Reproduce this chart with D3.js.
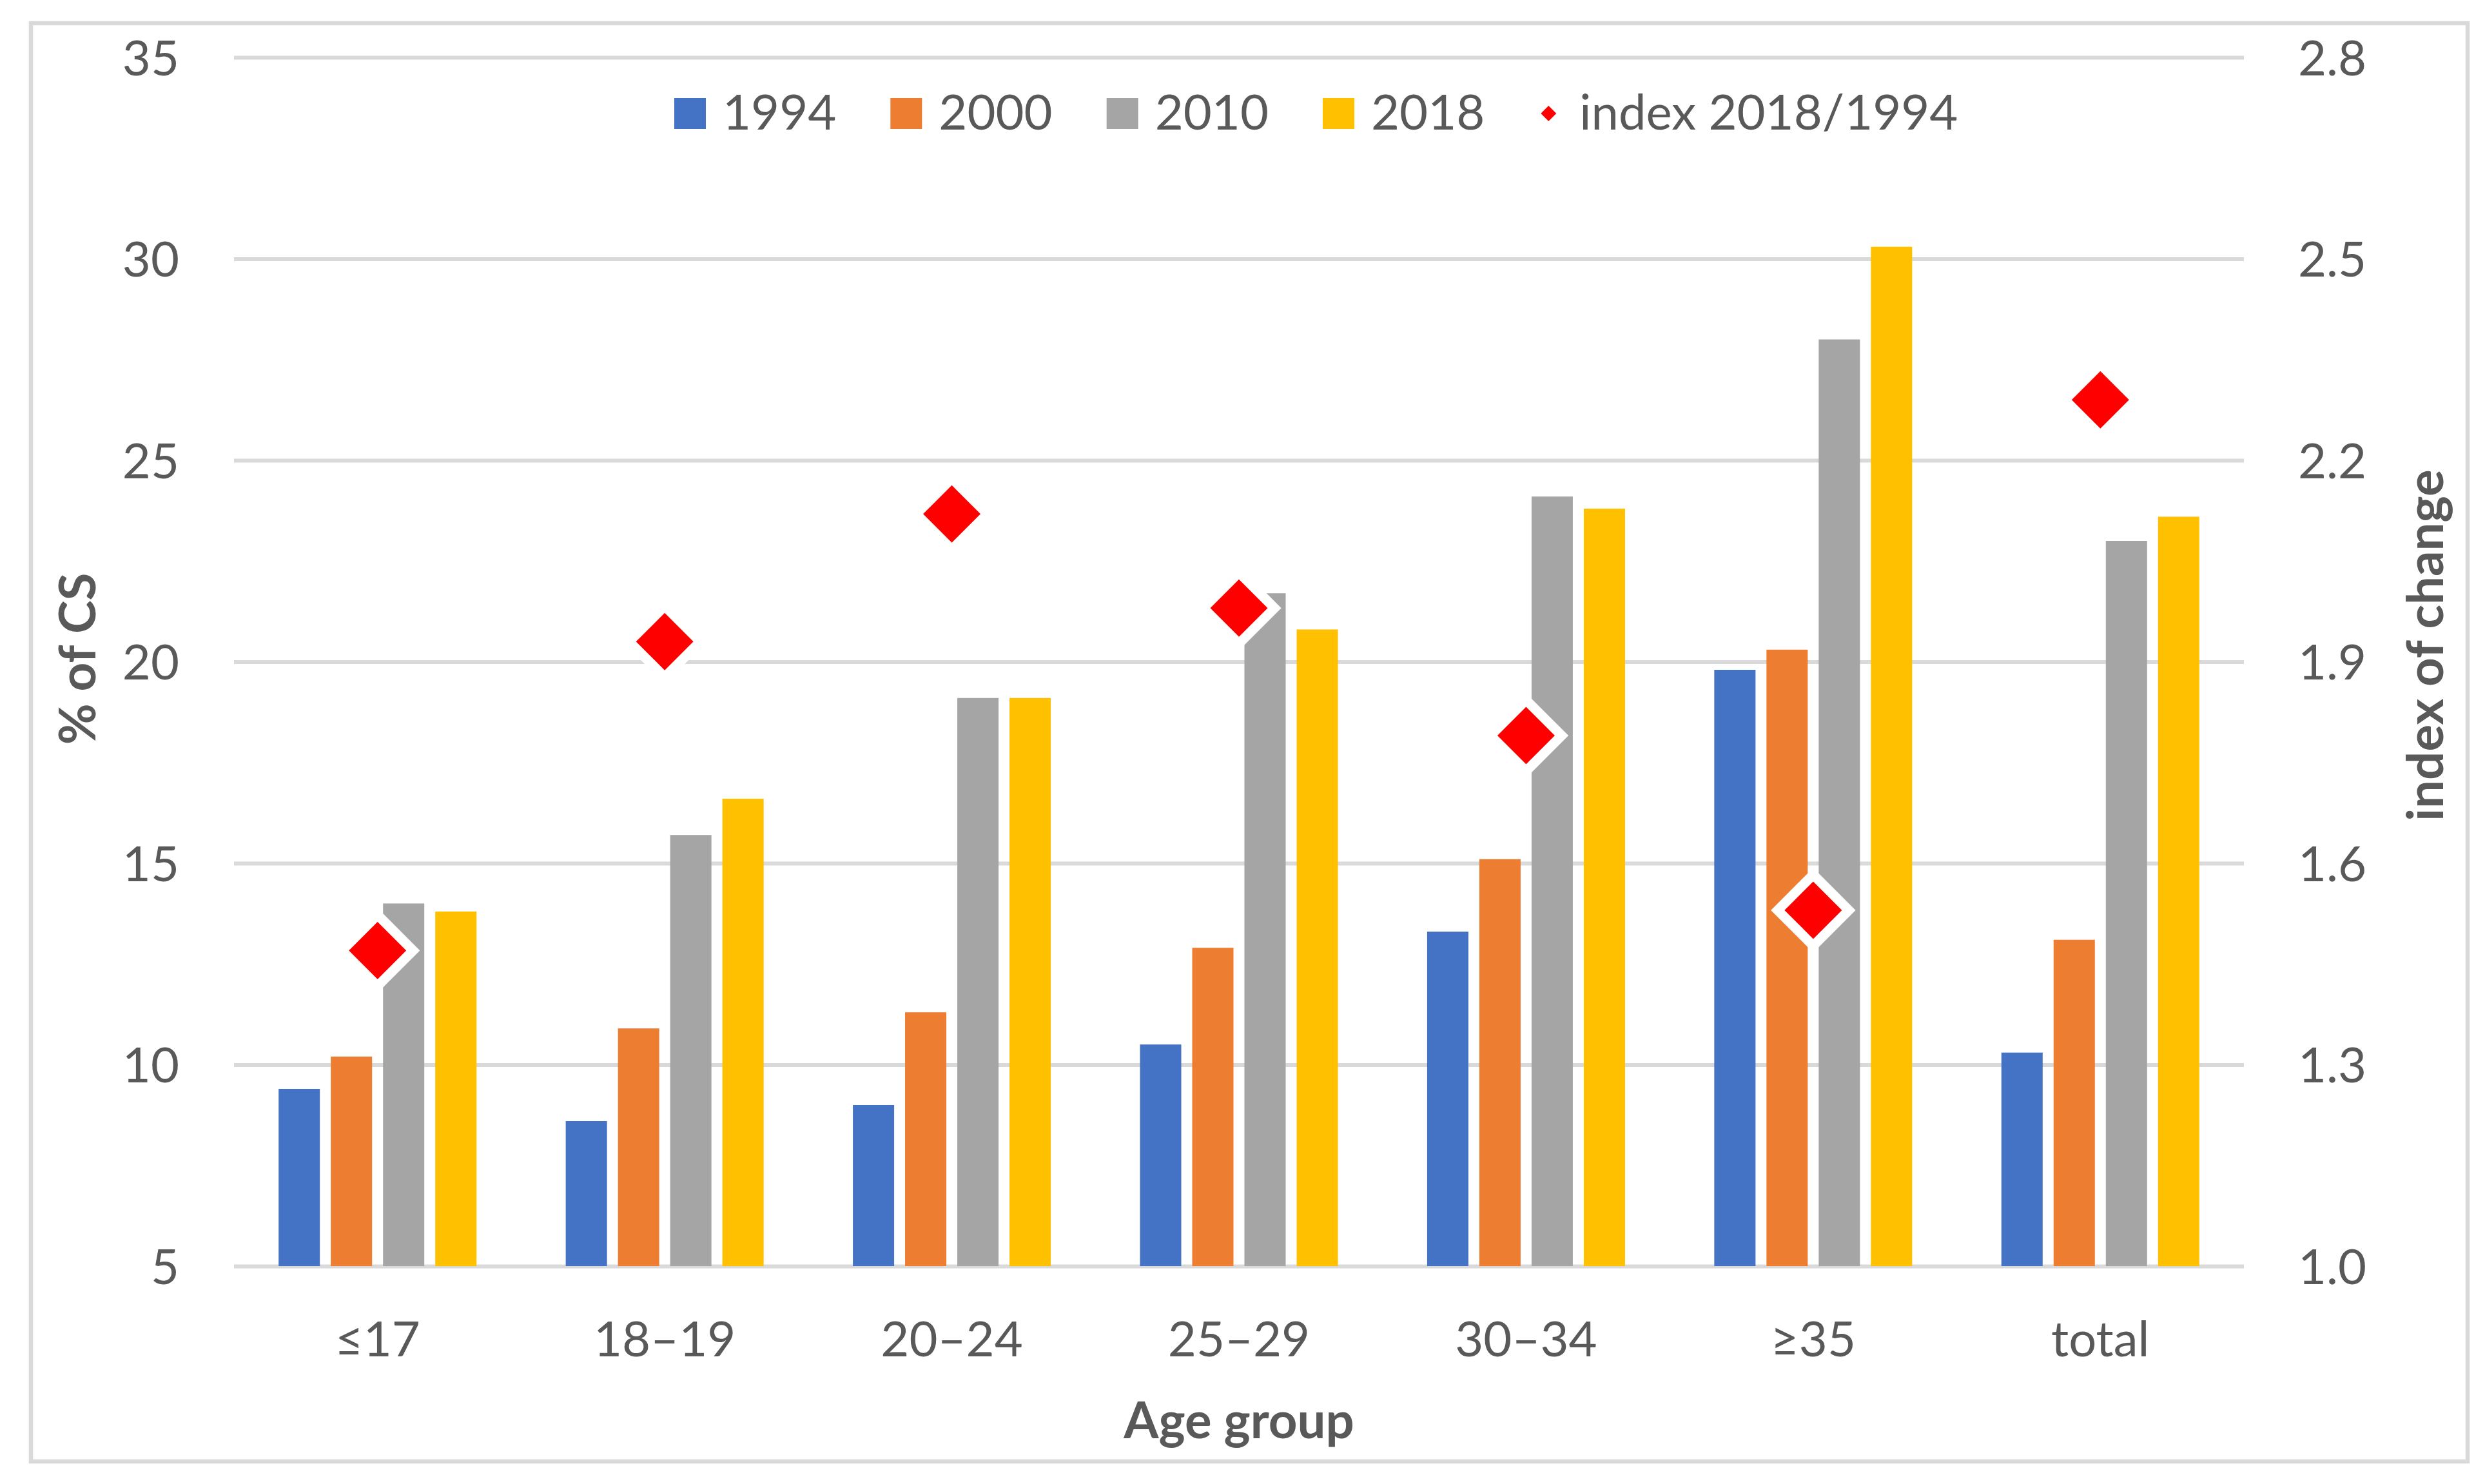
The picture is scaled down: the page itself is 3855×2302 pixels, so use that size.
<!DOCTYPE html>
<html>
<head>
<meta charset="utf-8">
<script src="https://cdn.jsdelivr.net/npm/d3@7/dist/d3.min.js"></script>
<style>
  html, body { margin: 0; padding: 0; background: #ffffff; }
  svg { display: block; }
  text { font-family: Lato, "Open Sans", "DejaVu Sans", sans-serif; fill: #595959; }
</style>
</head>
<body>
<svg id="chart" width="3855" height="2302"></svg>
<script>
// ---------------- data ----------------
const categories = ["≤17", "18–19", "20–24", "25–29", "30–34", "≥35", "total"];
const seriesNames = ["1994", "2000", "2010", "2018"];
const values1994 = [9.4, 8.6, 9.0, 10.5, 13.3, 19.8, 10.3];
const values2000 = [10.2, 10.9, 11.3, 12.9, 15.1, 20.3, 13.1];
const values2010 = [14.0, 15.7, 19.1, 21.7, 24.1, 28.0, 23.0];
const values2018 = [13.8, 16.6, 19.1, 20.8, 23.8, 30.3, 23.6];
const indexValues = [1.47, 1.93, 2.12, 1.98, 1.79, 1.53, 2.29];
const indexName = "index 2018/1994";
const leftTicks = [5, 10, 15, 20, 25, 30, 35];
const rightTicks = [1.0, 1.3, 1.6, 1.9, 2.2, 2.5, 2.8];
const seriesColors = ["#4472c4", "#ed7d31", "#a5a5a5", "#ffc000"];
const indexColor = "#ff0000";
const xTitle = "Age group";
const yLeftTitle = "% of CS";
const yRightTitle = "index of change";

const seriesValues = [values1994, values2000, values2010, values2018];

// ---------------- layout ----------------
const W = 3855, H = 2302;
const plot = { left: 363, right: 3481, top: 89, bottom: 1964 };
const gridColor = "#d9d9d9";
const tickFont = 76;
const titleFont = 78;

const svg = d3.select("#chart");

svg.append("rect")
  .attr("x", 48).attr("y", 36)
  .attr("width", 3780).attr("height", 2231)
  .attr("fill", "#ffffff")
  .attr("stroke", gridColor)
  .attr("stroke-width", 6.5);

const x0 = d3.scaleBand().domain(categories).range([plot.left, plot.right]).paddingInner(0).paddingOuter(0);
const groupW = 307;
const x1 = d3.scaleBand().domain(seriesNames).range([0, groupW]).paddingInner(17 / 81).paddingOuter(0);
const yL = d3.scaleLinear().domain([5, 35]).range([plot.bottom, plot.top]);
const yR = d3.scaleLinear().domain([1.0, 2.8]).range([plot.bottom, plot.top]);

// left axis with gridlines
const gLeft = svg.append("g").attr("transform", `translate(${plot.left},0)`)
  .call(d3.axisLeft(yL).tickValues(leftTicks).tickSize(-(plot.right - plot.left)).tickPadding(85).tickFormat(d3.format("d")));
gLeft.select(".domain").remove();
gLeft.selectAll(".tick line").attr("stroke", gridColor).attr("stroke-width", 6);
gLeft.selectAll(".tick text").attr("font-size", tickFont).attr("fill", "#595959").attr("dy", "0.36em");

// right axis
const gRight = svg.append("g").attr("transform", `translate(${plot.right},0)`)
  .call(d3.axisRight(yR).tickValues(rightTicks).tickSize(0).tickPadding(84).tickFormat(d3.format(".1f")));
gRight.select(".domain").remove();
gRight.selectAll(".tick text").attr("font-size", tickFont).attr("fill", "#595959").attr("dy", "0.36em");

// bottom axis
const gBottom = svg.append("g").attr("transform", `translate(0,${plot.bottom})`)
  .call(d3.axisBottom(x0).tickSize(0).tickPadding(86));
gBottom.select(".domain").remove();
gBottom.selectAll(".tick text").attr("font-size", tickFont).attr("fill", "#595959");

// bars
const rows = categories.map((c, i) => ({ cat: c, vals: seriesNames.map((s, j) => ({ s, j, v: seriesValues[j][i] })) }));
const groupOffset = (x0.bandwidth() - groupW) / 2;
const groups = svg.append("g").selectAll("g").data(rows).join("g")
  .attr("transform", d => `translate(${x0(d.cat) + groupOffset},0)`);
groups.selectAll("rect").data(d => d.vals).join("rect")
  .attr("x", d => x1(d.s))
  .attr("width", x1.bandwidth())
  .attr("y", d => yL(d.v))
  .attr("height", d => yL(5) - yL(d.v))
  .attr("fill", d => seriesColors[d.j]);

// diamonds
function diamond(r) { return `M0,${-r}L${r},0L0,${r}L${-r},0Z`; }
svg.append("g").selectAll("path").data(indexValues).join("path")
  .attr("d", diamond(44.5))
  .attr("transform", (d, i) => `translate(${x0(categories[i]) + x0.bandwidth() / 2},${yR(d)})`)
  .attr("fill", indexColor)
  .attr("stroke", "#ffffff")
  .attr("stroke-width", 30)
  .attr("stroke-linejoin", "miter")
  .style("paint-order", "stroke");

// axis titles
svg.append("text")
  .attr("x", (plot.left + plot.right) / 2).attr("y", 2231)
  .attr("text-anchor", "middle").attr("font-size", titleFont).attr("font-weight", "bold")
  .text(xTitle);
svg.append("text")
  .attr("transform", `translate(148,1022) rotate(-90)`)
  .attr("text-anchor", "middle").attr("font-size", titleFont).attr("font-weight", "bold")
  .text(yLeftTitle);
svg.append("text")
  .attr("transform", `translate(3790,1001) rotate(-90)`)
  .attr("text-anchor", "middle").attr("font-size", titleFont).attr("font-weight", "bold")
  .text(yRightTitle);

// legend
const legend = svg.append("g");
let lx = 1046;
const legendBase = 201;
seriesNames.forEach((s, j) => {
  legend.append("rect").attr("x", lx).attr("y", 152).attr("width", 49).attr("height", 48).attr("fill", seriesColors[j]);
  const t = legend.append("text").attr("x", lx + 75).attr("y", legendBase).attr("font-size", tickFont).text(s);
  const w = t.node().getComputedTextLength();
  lx = lx + 75 + w + 84;
});
lx += 3;
legend.append("path").attr("d", diamond(12)).attr("transform", `translate(${lx + 12},176)`).attr("fill", indexColor);
legend.append("text").attr("x", lx + 60).attr("y", legendBase).attr("font-size", tickFont).text(indexName);
</script>
</body>
</html>
